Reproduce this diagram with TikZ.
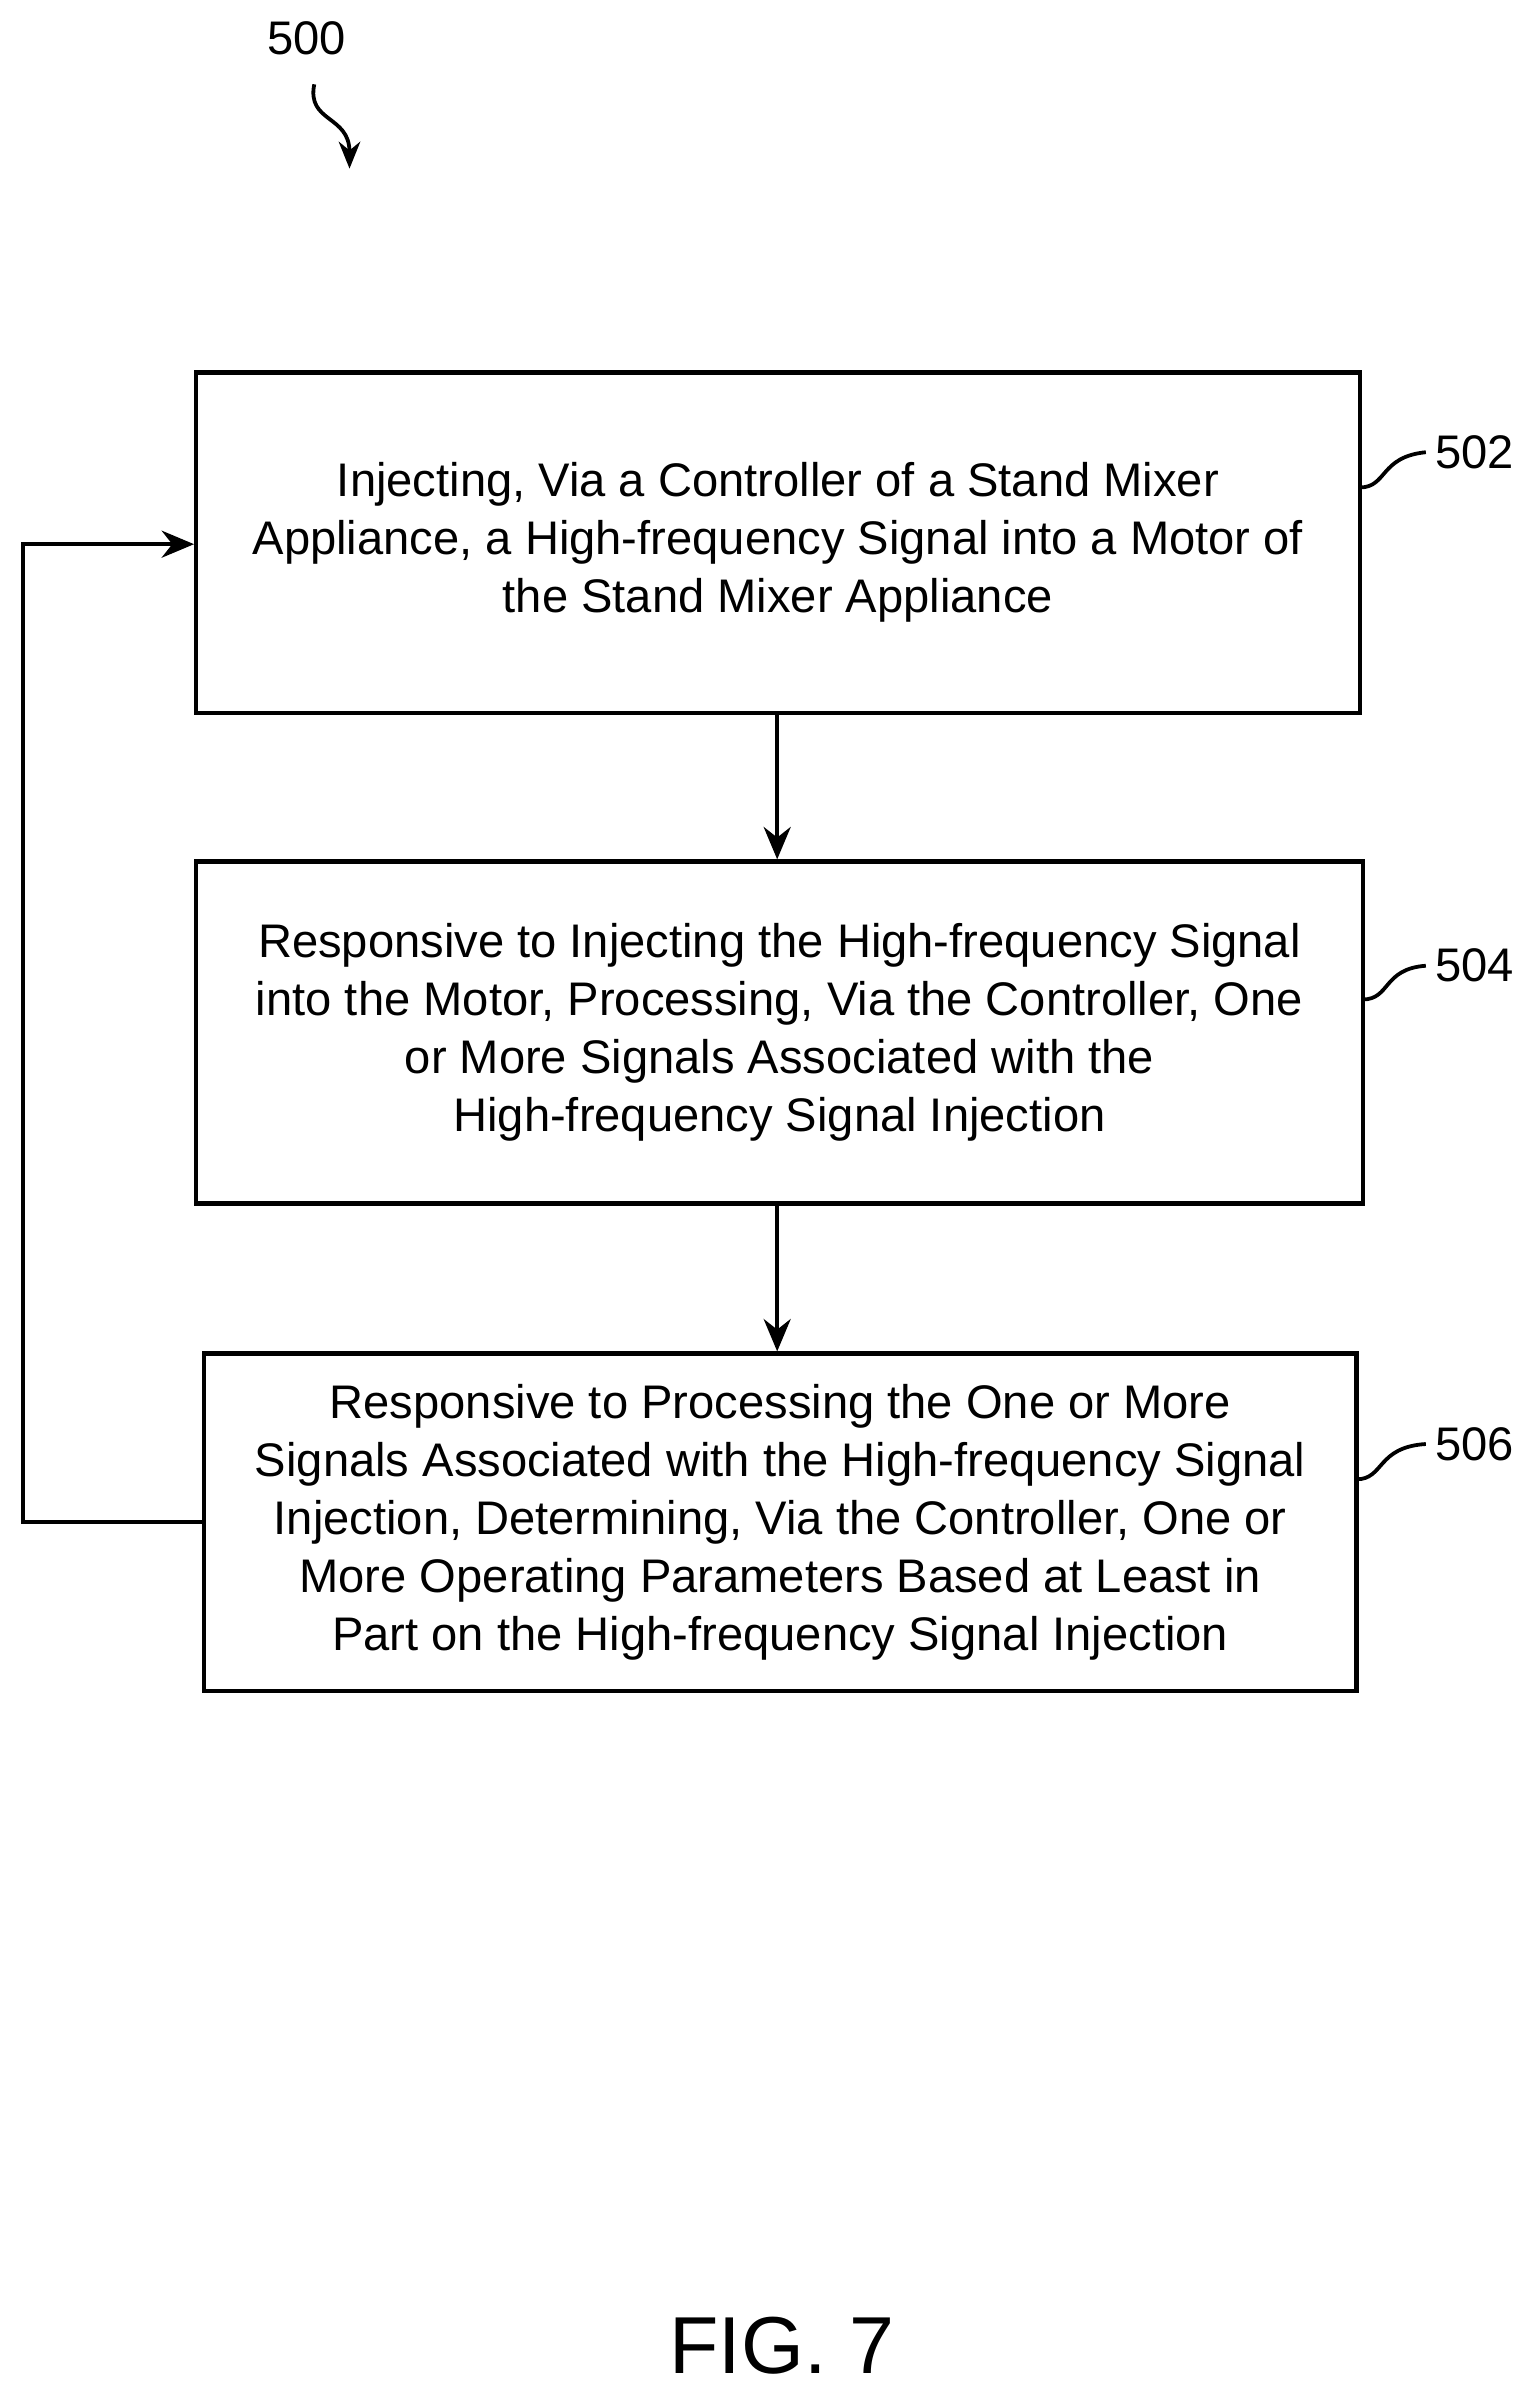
\documentclass[tikz,border=0pt]{standalone}
\usepackage{fontspec}
\setmainfont{Liberation Sans}
\usetikzlibrary{arrows.meta}
\begin{document}
\begin{tikzpicture}[x=0.02cm,y=-0.02cm,
  box/.style={draw,line width=1.6pt,inner sep=0pt},
  txt/.style={align=center,font=\fontsize{17.5}{21.5}\selectfont},
  arr/.style={line width=1.6pt,-{Stealth[length=12pt,width=10pt]}},
  lbl/.style={font=\fontsize{17.5}{21}\selectfont}]
\useasboundingbox (0,0) rectangle (1000,1565);
\node[box,minimum width=759*0.02cm,minimum height=222*0.02cm] (b2) at (507.5,354) {};
\node[txt] at (b2.center) {Injecting, Via a Controller of a Stand Mixer\\Appliance, a High-frequency Signal into a Motor of\\the Stand Mixer Appliance};
\node[box,minimum width=761*0.02cm,minimum height=223*0.02cm] (b4) at (508.5,673.5) {};
\node[txt] at (b4.center) {Responsive to Injecting the High-frequency Signal\\into the Motor, Processing, Via the Controller, One\\or More Signals Associated with the\\High-frequency Signal Injection};
\node[box,minimum width=752*0.02cm,minimum height=220*0.02cm] (b6) at (509,993) {};
\node[txt] at (b6.center) {Responsive to Processing the One or More\\Signals Associated with the High-frequency Signal\\Injection, Determining, Via the Controller, One or\\More Operating Parameters Based at Least in\\Part on the High-frequency Signal Injection};
\draw[arr] (b2.south -| 507,0) -- (b4.north -| 507,0);
\draw[arr] (b4.south -| 507,0) -- (b6.north -| 507,0);
\coordinate (l1) at (15,993);
\coordinate (l2) at (15,355);
\draw[arr] (b6.west) -- (l1) -- (l2) -- (b2.west |- l2);
\node[lbl] (n2) at (962,295) {502};
\node[lbl] (n4) at (962,630) {504};
\node[lbl] (n6) at (962,942) {506};
\draw[line width=1.4pt] (887,318) .. controls (905,318) and (900,298) .. (n2.west);
\draw[line width=1.4pt] (889,652) .. controls (907,652) and (902,632) .. (n4.west);
\draw[line width=1.4pt] (885,965) .. controls (903,965) and (898,944) .. (n6.west);
\node[lbl] (n0) at (200,25) {500};
\coordinate (a0) at (228,110);
\draw[line width=1.4pt,-{Stealth[length=10pt,width=8pt]}] (205,55) .. controls (200,80) and (228,75) .. (a0);
\node[font=\fontsize{30}{36}\selectfont] (fig) at (510,1530) {FIG. 7};
\end{tikzpicture}
\end{document}
